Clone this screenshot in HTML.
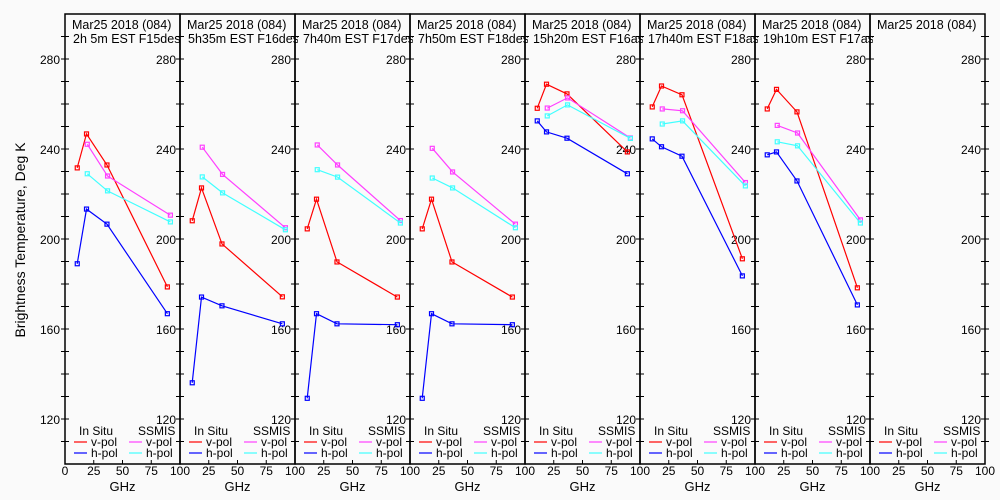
<!DOCTYPE html>
<html><head><meta charset="utf-8">
<style>
html,body{margin:0;padding:0;background:#fafafa;}
svg{display:block;font-family:"Liberation Sans",sans-serif;}
</style></head>
<body>
<svg id="chart" width="1000" height="500" viewBox="0 0 1000 500" xmlns="http://www.w3.org/2000/svg">
<rect width="1000" height="500" fill="#fafafa"/>
<text x="0" y="0" transform="translate(25,240) rotate(-90)" text-anchor="middle" font-size="14" fill="#000">Brightness Temperature, Deg K</text>
<g id="panels"></g>
</svg>
<script>
const insituFreq = [10.65, 18.7, 36.5, 89];
const ssmisFreq = [19.35, 37, 91.65];
const panelTimes = ["2h 5m EST F15des","5h35m EST F16des","7h40m EST F17des","7h50m EST F18des","15h20m EST F16asc","17h40m EST F18asc","19h10m EST F17asc",""];
const insituV = [[231.6,246.7,232.9,178.7],[208.1,222.7,197.8,174.3],[204.5,217.7,189.8,174.2],[204.5,217.7,189.8,174.2],[258.1,268.8,264.5,238.7],[258.7,268.0,264.1,191.2],[257.8,266.5,256.5,178.3],[]];
const insituH = [[189.0,213.3,206.6,166.8],[136.1,174.2,170.3,162.3],[129.2,166.8,162.3,161.9],[129.2,166.8,162.3,161.9],[252.5,247.6,244.8,229.0],[244.5,241.0,236.8,183.6],[237.4,238.7,225.8,170.7],[]];
const ssmisV = [[242.1,228.0,210.6],[240.8,228.7,205.0],[241.8,232.9,208.2],[240.3,229.8,206.6],[258.2,262.7,244.9],[257.8,257.0,225.1],[250.5,247.1,208.5],[]];
const ssmisH = [[229.0,221.4,207.6],[227.6,220.5,204.1],[230.8,227.5,207.1],[227.1,222.7,205.0],[254.7,259.6,244.7],[251.1,252.5,223.6],[243.2,241.4,207.1],[]];
const yTicks = [120,160,200,240,280];
const xTicks = [0,25,50,75,100];

const NS="http://www.w3.org/2000/svg";
const X0=65, PW=115, TOP=14, BOT=464, YMIN=100, YMAX=300;
function sx(p,f){return X0+p*PW+f/100*PW;}
function sy(v){return BOT-(v-YMIN)/(YMAX-YMIN)*(BOT-TOP);}
const root=document.getElementById('panels');
function mk(tag,attrs,parent){const e=document.createElementNS(NS,tag);for(const k in attrs)e.setAttribute(k,attrs[k]);(parent||root).appendChild(e);return e;}
function txt(s,attrs,parent){const e=mk('text',attrs,parent);e.textContent=s;return e;}

for(let p=0;p<8;p++){
  const g=mk('g',{});
  
  
  const L=X0+p*PW, R=L+PW;
  const frame=mk('rect',{x:L,y:TOP,width:PW,height:BOT-TOP,fill:'none',stroke:'#000','stroke-width':1.5},g);
  
  
  for(let v=YMIN+10;v<YMAX;v+=10){
    const y=sy(v);
    mk('line',{x1:R-4,x2:R+4,y1:y,y2:y,stroke:'#000'},g);
    if(p===0) mk('line',{x1:L-4,x2:L+4,y1:y,y2:y,stroke:'#000'},g);
  }
  yTicks.forEach(v=>{
    const t=txt(String(v),{x:R-4,y:sy(v)+5,'text-anchor':'end','font-size':12},g);
    
    
    if(p===0){
      const t2=txt(String(v),{x:L-5,y:sy(v)+5,'text-anchor':'end','font-size':12},g);
      
      
    }
  });
  xTicks.forEach(f=>{
    const x=sx(p,f);
    mk('line',{x1:x,x2:x,y1:BOT,y2:BOT-4,stroke:'#000'},g);
    if(f===0&&p>0) return;
    const t=txt(String(f),{x:x,y:BOT+11,'text-anchor':'middle','font-size':12},g);
    
    
  });
  const xl=txt('GHz',{x:L+PW/2,y:491,'text-anchor':'middle','font-size':13},g);
  
  
  const clip=mk('clipPath',{id:'clip'+p},g);
  mk('rect',{x:L,y:0,width:PW+3,height:60},clip);
  const t1=txt('Mar25 2018 (084)',{x:L+7,y:29,'font-size':12.5,'clip-path':'url(#clip'+p+')'},g);
  
  
  const t2=txt(panelTimes[p],{x:L+8,y:43,'font-size':12.5,'clip-path':'url(#clip'+p+')'},g);
  
  
  const series=[[insituFreq,insituV[p],'#ff0000'],[insituFreq,insituH[p],'#0000ff'],[ssmisFreq,ssmisV[p],'#ff40ff'],[ssmisFreq,ssmisH[p],'#40ffff']];
  const names=['insitu-vpol','insitu-hpol','ssmis-vpol','ssmis-hpol'];
  series.forEach((s,i)=>{
    const [fr,vals,col]=s;
    if(!vals.length) return;
    const pts=vals.map((v,j)=>sx(p,fr[j]).toFixed(1)+','+sy(v).toFixed(1)).join(' ');
    const pl=mk('polyline',{points:pts,fill:'none',stroke:col,'stroke-width':1.2},g);
    
    
    vals.forEach((v,j)=>{
      const m=mk('rect',{x:sx(p,fr[j])-2,y:sy(v)-2,width:4,height:4,fill:'none',stroke:col,'stroke-width':1.2},g);
      
      
    });
  });
  const lg=mk('g',{},g);
  
  
  txt('In Situ',{x:L+14,y:435,'font-size':12},lg);
  txt('SSMIS',{x:L+73,y:435,'font-size':12},lg);
  const rows=[['v-pol','#ff0000','#ff40ff',446],['h-pol','#0000ff','#40ffff',457]];
  rows.forEach(r=>{
    const ly=r[3]-4;
    mk('line',{x1:L+9,x2:L+22,y1:ly,y2:ly,stroke:r[1],'stroke-width':1.2},lg);
    txt(r[0],{x:L+26,y:r[3],'font-size':12},lg);
    mk('line',{x1:L+64,x2:L+77,y1:ly,y2:ly,stroke:r[2],'stroke-width':1.2},lg);
    txt(r[0],{x:L+81,y:r[3],'font-size':12},lg);
  });
}
</script>
</body></html>
